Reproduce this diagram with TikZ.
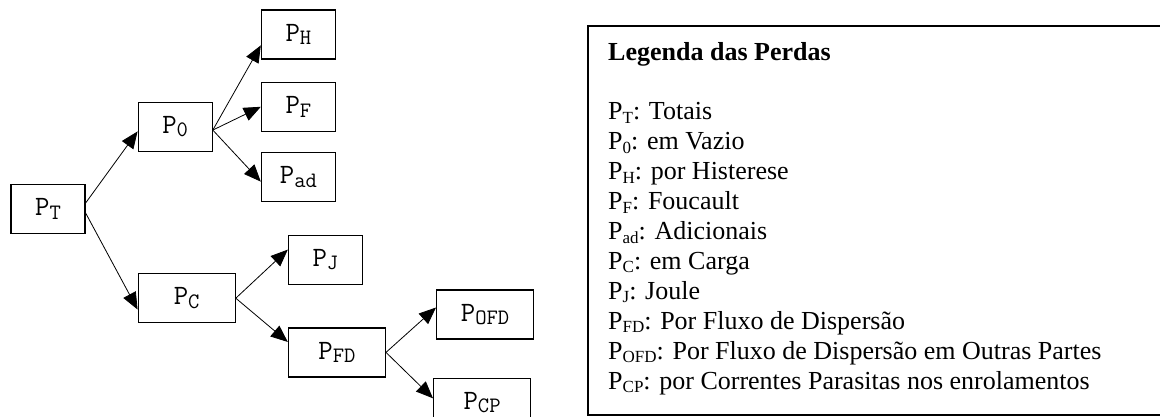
\documentclass[tikz,border=0pt]{standalone}
\usepackage{fontspec}
\setmainfont{Liberation Serif}
\usepackage{tikz}
\usetikzlibrary{positioning,arrows.meta}
\tikzstyle{block} = [rectangle, draw, line width=1.2pt, inner sep=0pt,
                     minimum width=74pt, minimum height=49pt,
                     font=\ttfamily\fontsize{28}{28}\selectfont]
\tikzstyle{wideblock} = [block, minimum width=97pt]
\tikzstyle{line} = [draw, line width=0.8pt, -{Triangle[length=17pt,width=14pt]}]
\tikzstyle{legend} = [align=left, inner sep=0pt, font=\fontsize{26}{29.9}\selectfont]
\newcommand{\perda}[1]{P\raisebox{-3.5pt}{\fontsize{22}{22}\selectfont #1}}
\newcommand{\indice}[1]{P\raisebox{-3.5pt}{\fontsize{17}{17}\selectfont #1}}

\begin{document}
\begin{tikzpicture}[x=1pt, y=-1pt]
\useasboundingbox (0,0) rectangle (1160,417);
% arvore das perdas
\node [block] (pt) at (48,209) {\perda{T}};
\node [block, above right=32pt and 52pt of pt] (p0) {\perda{0}};
\node [wideblock, below right=39pt and 52pt of pt] (pc) {\perda{C}};
\node [block, right=48pt of p0, yshift=20pt] (pf) {\perda{F}};
\node [block, above=22pt of pf] (ph) {\perda{H}};
\node [block, below=20pt of pf] (pad) {\perda{ad}};
\node [block, right=52pt of pc, yshift=38.5pt] (pj) {\perda{J}};
\node [wideblock, below right=4pt and 52pt of pc] (pfd) {\perda{FD}};
\node [wideblock, right=50pt of pfd, yshift=38pt] (pofd) {\perda{OFD}};
\node [wideblock, below right=0pt and 47pt of pfd] (pcp) {\perda{CP}};

\path [line] (pt.9) -- (p0.187);
\path [line] (pt.-6) -- (pc.193);
\path [line] (p0.-5) -- (ph.196);
\path [line] (p0.-5) -- (pf.west);
\path [line] (p0.-5) -- (pad.187);
\path [line] (pc.east) -- (pj.165);
\path [line] (pc.east) -- (pfd.168);
\path [line] (pfd.east) -- (pofd.172);
\path [line] (pfd.east) -- (pcp.175);

% legenda (base = ultima linha)
\node [legend, anchor=base west] (leg) at (608,389) {\textbf{Legenda das Perdas}\\[29.1pt]
  \indice{T}: Totais\\
  \indice{0}: em Vazio\\
  \indice{H}: por Histerese\\
  \indice{F}: Foucault\\
  \indice{ad}: Adicionais\\
  \indice{C}: em Carga\\
  \indice{J}: Joule\\
  \indice{FD}: Por Fluxo de Dispersão\\
  \indice{OFD}: Por Fluxo de Dispersão em Outras Partes\\
  \indice{CP}: por Correntes Parasitas nos enrolamentos};
\draw [line width=2pt] (1162,26) -| (588,415) -- (1162,415);
\end{tikzpicture}
\end{document}
